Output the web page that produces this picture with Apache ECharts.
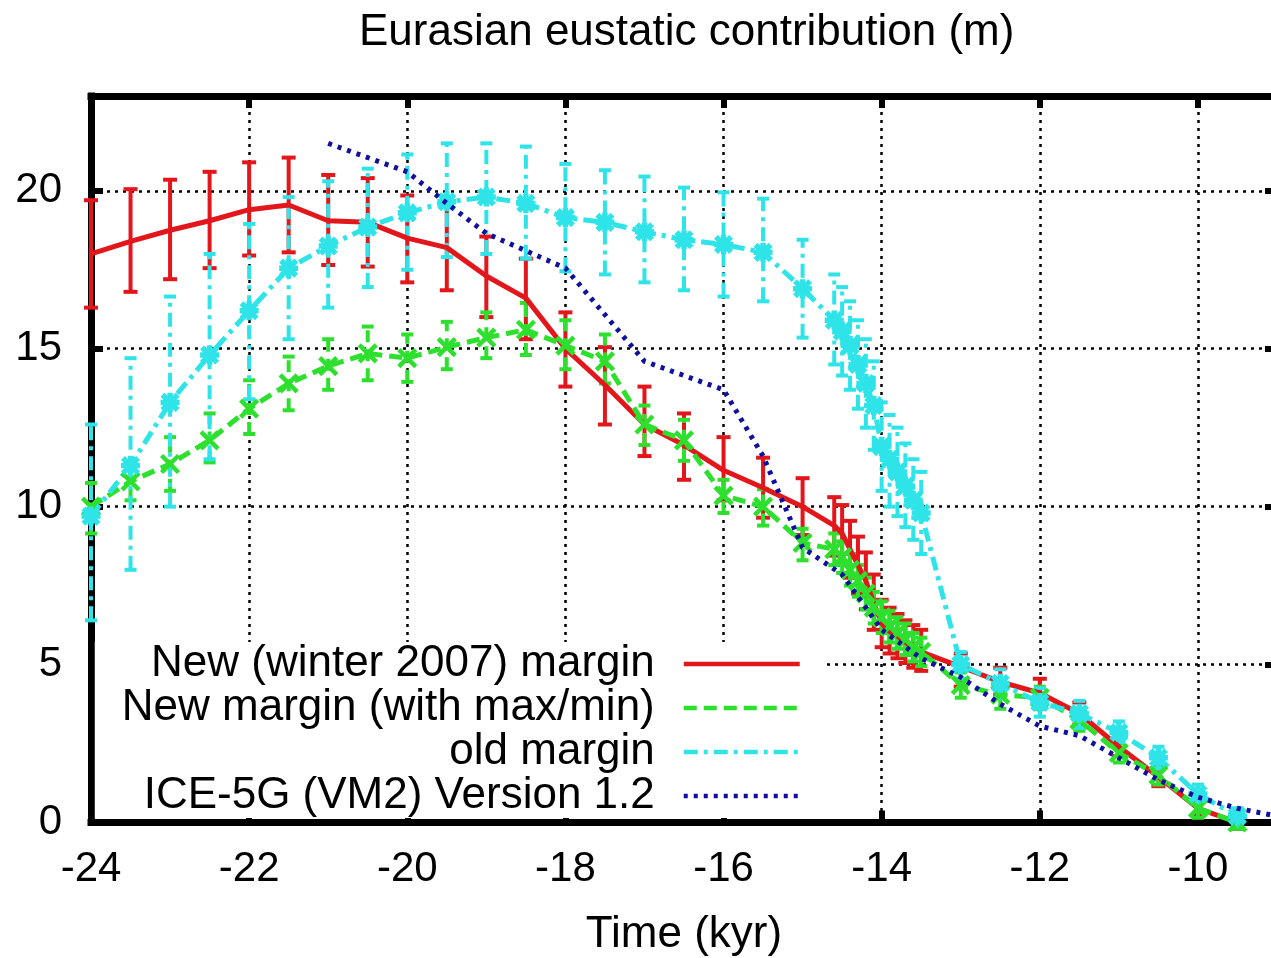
<!DOCTYPE html>
<html>
<head>
<meta charset="utf-8">
<script src="https://cdn.jsdelivr.net/npm/echarts@6/dist/echarts.min.js"></script>
<style>
  html, body { margin: 0; padding: 0; background: #fff; overflow: hidden; }
  #chart { width: 1271px; height: 958px; }
</style>
</head>
<body>
<div id="chart"></div>
<script>
// time axis (kyr) shared by the three margin reconstructions
const marginTime = [-24, -23.5, -23, -22.5, -22, -21.5, -21, -20.5, -20, -19.5, -19, -18.5, -18, -17.5, -17, -16.5, -16, -15.5, -15,
  -14.6, -14.5, -14.4, -14.3, -14.2, -14.1, -14.0, -13.9, -13.8, -13.7, -13.6, -13.5,
  -13, -12.5, -12, -11.5, -11, -10.5, -10, -9.5];

// New (winter 2007) margin
const newMargin = [18.0, 18.4, 18.75, 19.05, 19.4, 19.55, 19.05, 19.0, 18.5, 18.2, 17.3, 16.6, 15.0, 13.85, 12.6, 11.95, 11.15, 10.6, 10.0,
  9.4, 9.15, 8.65, 8.15, 7.65, 6.95, 6.3, 6.05, 5.9, 5.7, 5.55, 5.4,
  4.93, 4.45, 4.1, 3.45, 2.4, 1.45, 0.45, 0.0];
const newMarginLo = [16.3, 16.8, 17.2, 17.55, 17.95, 18.05, 17.65, 17.6, 17.1, 16.85, 16.0, 15.3, 13.8, 12.6, 11.6, 10.85, 10.2, 9.65, 9.1,
  8.45, 8.25, 7.75, 7.25, 6.75, 6.1, 5.55, 5.35, 5.2, 5.05, 4.9, 4.8,
  4.3, 4.05, 3.75, 3.1, 2.1, 1.15, 0.2, -0.2];
const newMarginHi = [19.7, 20.05, 20.35, 20.6, 20.9, 21.05, 20.5, 20.4, 19.85, 19.55, 18.55, 17.85, 16.15, 15.05, 13.8, 12.95, 12.2, 11.55, 10.9,
  10.3, 10.05, 9.55, 9.05, 8.55, 7.85, 7.05, 6.8, 6.6, 6.4, 6.25, 6.1,
  5.35, 4.9, 4.55, 3.8, 2.7, 1.75, 0.7, 0.2];

// New margin (with max/min)
const maxMin = [10.0, 10.8, 11.35, 12.1, 13.1, 13.9, 14.45, 14.85, 14.7, 15.05, 15.35, 15.6, 15.1, 14.6, 12.6, 12.1, 10.35, 10.0, 8.85,
  8.65, 8.4, 8.0, 7.65, 7.25, 6.8, 6.5, 6.2, 6.0, 5.8, 5.55, 5.4,
  4.35, 4.05, 3.95, 3.25, 2.2, 1.5, 0.45, 0.0];
const maxMinLo = [9.15, 10.2, 10.5, 11.4, 12.3, 13.05, 13.7, 14.0, 13.95, 14.35, 14.7, 14.8, 14.35, 13.9, 11.95, 11.45, 9.8, 9.4, 8.3,
  8.15, 7.9, 7.5, 7.15, 6.75, 6.3, 6.0, 5.7, 5.5, 5.3, 5.1, 4.95,
  3.95, 3.6, 3.6, 2.9, 1.9, 1.2, 0.15, -0.2];
const maxMinHi = [10.75, 11.4, 12.2, 12.95, 14.0, 14.75, 15.3, 15.7, 15.45, 15.85, 16.15, 16.45, 15.9, 15.45, 13.2, 12.75, 10.85, 10.55, 9.3,
  9.15, 8.9, 8.5, 8.15, 7.75, 7.3, 7.0, 6.7, 6.5, 6.3, 6.0, 5.85,
  4.75, 4.45, 4.3, 3.6, 2.5, 1.8, 0.75, 0.2];

// old margin
const oldMargin = [9.7, 11.3, 13.3, 14.8, 16.2, 17.55, 18.25, 18.85, 19.3, 19.65, 19.8, 19.6, 19.15, 19.0, 18.7, 18.45, 18.3, 18.05, 16.9,
  15.9, 15.55, 15.1, 14.5, 13.9, 13.2, 11.9, 11.5, 11.1, 10.65, 10.2, 9.8,
  5.0, 4.4, 3.8, 3.45, 2.85, 2.05, 0.9, 0.2];
const oldMarginLo = [6.4, 8.0, 10.0, 11.5, 13.4, 15.3, 16.3, 16.95, 17.5, 17.9, 18.0, 17.85, 17.45, 17.35, 17.1, 16.85, 16.65, 16.5, 15.35,
  14.5, 14.15, 13.7, 13.1, 12.5, 11.8, 10.5, 10.0, 9.7, 9.35, 8.95, 8.5,
  4.55, 3.95, 3.35, 3.0, 2.55, 1.7, 0.6, -0.1];
const oldMarginHi = [12.6, 14.7, 16.65, 18.0, 18.95, 19.8, 20.3, 20.7, 21.15, 21.5, 21.5, 21.4, 20.85, 20.65, 20.45, 20.1, 19.95, 19.75, 18.45,
  17.35, 16.95, 16.5, 15.9, 15.3, 14.6, 13.3, 12.9, 12.5, 12.0, 11.5, 11.1,
  5.4, 4.85, 4.25, 3.85, 3.2, 2.4, 1.2, 0.45];

// ICE-5G (VM2) Version 1.2
const iceTime = [-21, -20, -19.5, -19, -18, -17, -16, -15.5, -15, -14.5, -14, -13.5, -13, -12.5, -12, -11.5, -11, -10.5, -10, -9.5, -9];
const iceVals = [21.5, 20.6, 19.6, 18.65, 17.55, 14.6, 13.7, 11.6, 8.7, 7.85, 6.1, 5.2, 4.6, 3.75, 3.05, 2.75, 2.05, 1.35, 0.8, 0.45, 0.2];

const seriesNames = ['New (winter 2007) margin', 'New margin (with max/min)', 'old margin', 'ICE-5G (VM2) Version 1.2'];
const xTicks = { min: -24, max: -9, interval: 2 };
const yTicks = { min: 0, max: 23, interval: 5 };

const RED = '#e3161b', GREEN = '#2ee02e', CYAN = '#2fe4e8', BLUE = '#1010a0';
const FONT = '"Liberation Sans", Arial, Helvetica, sans-serif';

const chart = echarts.init(document.getElementById('chart'));

function pairs(xs, ys) {
  return xs.map((x, i) => [x, ys[i]]);
}

// error bar with caps, the vertical part uses the series dash
function errorBars(color, dash, halfCap) {
  return function (params, api) {
    const x = api.value(0);
    const lo = api.coord([x, api.value(1)]);
    const hi = api.coord([x, api.value(2)]);
    const st = { stroke: color, lineWidth: 4, fill: null };
    return {
      type: 'group',
      children: [
        { type: 'line', shape: { x1: lo[0], y1: lo[1], x2: hi[0], y2: hi[1] }, style: Object.assign({ lineDash: dash }, st) },
        { type: 'line', shape: { x1: hi[0] - halfCap, y1: hi[1], x2: hi[0] + halfCap, y2: hi[1] }, style: st },
        { type: 'line', shape: { x1: lo[0] - halfCap, y1: lo[1], x2: lo[0] + halfCap, y2: lo[1] }, style: st }
      ]
    };
  };
}

function barSeries(lo, hi, color, dash, halfCap) {
  return {
    type: 'custom',
    renderItem: errorBars(color, dash, halfCap),
    encode: { x: 0, y: [1, 2] },
    data: marginTime.map((t, i) => [t, lo[i], hi[i]]),
    silent: true,
    z: 2
  };
}

const xAxisBase = {
  type: 'value',
  min: xTicks.min, max: xTicks.max, interval: xTicks.interval,
  axisLine: { show: true, onZero: false, lineStyle: { color: '#000', width: 7, cap: 'square' } },
  axisTick: { show: true, inside: true, length: 12, lineStyle: { color: '#000', width: 6 } }
};
const yAxisBase = {
  type: 'value',
  min: yTicks.min, max: yTicks.max, interval: yTicks.interval,
  axisLine: { show: true, onZero: false, lineStyle: { color: '#000', width: 7, cap: 'square' } },
  axisTick: { show: true, inside: true, length: 12, lineStyle: { color: '#000', width: 6 } }
};
const gridDots = { show: true, lineStyle: { color: '#000', width: 2.5, type: [3, 5] } };

const option = {
  animation: false,
  backgroundColor: '#fff',
  title: {
    text: 'Eurasian eustatic contribution (m)',
    left: 354,
    top: 6,
    textStyle: { fontFamily: FONT, fontSize: 44, fontWeight: 'normal', color: '#000' }
  },
  // the right frame (x = -9) sits just past the picture edge, as in the source
  grid: { left: 91, top: 96, width: 1186, height: 726.5, outerBoundsMode: 'none' },
  legend: {
    data: seriesNames,
    orient: 'vertical',
    align: 'right',
    right: 445,
    top: 642,
    padding: [0, 24, 0, 27],
    itemGap: 0,
    itemWidth: 116,
    itemHeight: 20,
    backgroundColor: '#fff',
    itemStyle: { opacity: 0 },
    lineStyle: { width: 4.5 },
    textStyle: { fontFamily: FONT, fontSize: 44, color: '#000', lineHeight: 44, padding: [0, 24, 0, 0] }
  },
  xAxis: [
    Object.assign({}, xAxisBase, {
      position: 'bottom',
      name: 'Time (kyr)',
      nameLocation: 'middle',
      nameGap: 90,
      nameTextStyle: { fontFamily: FONT, fontSize: 44, color: '#000' },
      axisLabel: { fontFamily: FONT, fontSize: 42, color: '#000', margin: 26, showMaxLabel: false },
      splitLine: gridDots
    }),
    Object.assign({}, xAxisBase, {
      position: 'top',
      axisLabel: { show: false },
      splitLine: { show: false }
    })
  ],
  yAxis: [
    Object.assign({}, yAxisBase, {
      position: 'left',
      axisLabel: { fontFamily: FONT, fontSize: 42, color: '#000', margin: 29, showMaxLabel: false },
      splitLine: gridDots
    }),
    Object.assign({}, yAxisBase, {
      position: 'right',
      axisLabel: { show: false },
      splitLine: { show: false }
    })
  ],
  series: [
    barSeries(newMarginLo, newMarginHi, RED, null, 7),
    {
      name: seriesNames[0],
      type: 'line',
      data: pairs(marginTime, newMargin),
      symbol: 'none',
      lineStyle: { color: RED, width: 5 },
      itemStyle: { color: RED },
      clip: false,
      z: 3
    },
    barSeries(maxMinLo, maxMinHi, GREEN, [12, 7], 6),
    {
      name: seriesNames[1],
      type: 'line',
      data: pairs(marginTime, maxMin),
      symbol: 'path://M0,0L10,10M10,0L0,10',
      symbolSize: 17,
      itemStyle: { color: GREEN, borderColor: GREEN, borderWidth: 4.5 },
      lineStyle: { color: GREEN, width: 5, type: [13, 7] },
      clip: false,
      z: 3
    },
    barSeries(oldMarginLo, oldMarginHi, CYAN, [14, 6, 4, 6], 6),
    {
      name: seriesNames[2],
      type: 'line',
      data: pairs(marginTime, oldMargin),
      symbol: 'path://M5,0L5,10M0,5L10,5M1,1L9,9M9,1L1,9',
      symbolSize: 19,
      itemStyle: { color: CYAN, borderColor: CYAN, borderWidth: 5.5 },
      lineStyle: { color: CYAN, width: 5, type: [14, 6, 4, 6] },
      clip: false,
      z: 3
    },
    {
      name: seriesNames[3],
      type: 'line',
      data: pairs(iceTime, iceVals),
      symbol: 'none',
      lineStyle: { color: BLUE, width: 5, type: [4, 6] },
      itemStyle: { color: BLUE },
      clip: false,
      z: 4
    }
  ]
};

chart.setOption(option);
</script>
</body>
</html>
